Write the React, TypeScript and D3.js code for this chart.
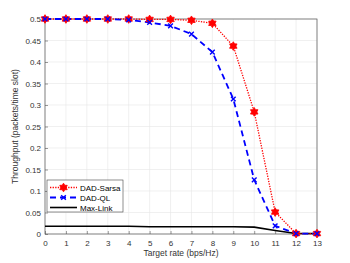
import React, { useEffect, useRef } from "react";
import * as d3 from "d3";

const rates = [0, 1, 2, 3, 4, 5, 6, 7, 8, 9, 10, 11, 12, 13];
const sarsa = [0.5, 0.5, 0.5, 0.5, 0.5, 0.499, 0.499, 0.497, 0.49, 0.437, 0.284, 0.051, 0.001, 0.001];
const ql = [0.5, 0.5, 0.5, 0.5, 0.498, 0.492, 0.484, 0.465, 0.423, 0.314, 0.126, 0.019, 0.001, 0.001];
const maxLink = [0.018, 0.018, 0.018, 0.018, 0.018, 0.017, 0.017, 0.017, 0.017, 0.017, 0.016, 0.008, 0.001, 0.001];
const yTicks = [0, 0.05, 0.1, 0.15, 0.2, 0.25, 0.3, 0.35, 0.4, 0.45, 0.5];

// six-pointed star, roughly like the MATLAB hexagram marker
const hexagram = {
  draw(ctx: any, size: number) {
    const r = Math.sqrt(size / 1.6);
    const ri = r * 0.6;
    for (let i = 0; i < 12; i++) {
      const a = (i * Math.PI) / 6 - Math.PI / 2;
      const rr = i % 2 === 0 ? r : ri;
      const px = rr * Math.cos(a);
      const py = rr * Math.sin(a);
      if (i === 0) ctx.moveTo(px, py);
      else ctx.lineTo(px, py);
    }
    ctx.closePath();
  },
};

const App = () => {
  const ref = useRef<SVGSVGElement>(null);

  useEffect(() => {
    const width = 350;
    const height = 263;
    const m = { left: 45, right: 33, top: 19, bottom: 29 };
    const svg = d3.select(ref.current);
    svg.selectAll("*").remove();

    const x = d3.scaleLinear().domain([0, 13]).range([m.left, width - m.right]);
    const y = d3.scaleLinear().domain([0, 0.5]).range([height - m.bottom, m.top]);
    const font = "Liberation Sans, Arial, sans-serif";

    svg.append("rect").attr("width", width).attr("height", height).attr("fill", "#fff");

    // grid
    const g = svg.append("g");
    g.selectAll(".gx")
      .data(rates)
      .join("line")
      .attr("x1", (d) => x(d))
      .attr("x2", (d) => x(d))
      .attr("y1", y(0))
      .attr("y2", y(0.5))
      .attr("stroke", "#e6e6e6")
      .attr("stroke-width", 0.6);
    g.selectAll(".gy")
      .data(yTicks)
      .join("line")
      .attr("x1", x(0))
      .attr("x2", x(13))
      .attr("y1", (d) => y(d))
      .attr("y2", (d) => y(d))
      .attr("stroke", "#e6e6e6")
      .attr("stroke-width", 0.6);

    // axes
    const xAxis = svg
      .append("g")
      .attr("transform", `translate(0,${y(0)})`)
      .call(d3.axisBottom(x).tickValues(rates).tickSize(-3).tickPadding(6).tickFormat(d3.format("d")));
    const yAxis = svg
      .append("g")
      .attr("transform", `translate(${x(0)},0)`)
      .call(d3.axisLeft(y).tickValues(yTicks).tickSize(-3).tickPadding(4).tickFormat((d) => String(+d)));
    [xAxis, yAxis].forEach((a) => {
      a.select(".domain").remove();
      a.selectAll("line").attr("stroke", "#555").attr("stroke-width", 0.6);
      a.selectAll("text").attr("fill", "#333").style("font-family", font).style("font-size", "8px");
    });

    // box
    svg
      .append("rect")
      .attr("x", x(0))
      .attr("y", y(0.5))
      .attr("width", x(13) - x(0))
      .attr("height", y(0) - y(0.5))
      .attr("fill", "none")
      .attr("stroke", "#555")
      .attr("stroke-width", 0.7);

    const pts = (vals: number[]) => rates.map((r, i) => [r, vals[i]] as [number, number]);
    const line = d3
      .line<[number, number]>()
      .x((d) => x(d[0]))
      .y((d) => y(d[1]));

    svg
      .append("path")
      .attr("d", line(pts(maxLink)))
      .attr("fill", "none")
      .attr("stroke", "#000")
      .attr("stroke-width", 1.6);

    svg
      .append("path")
      .attr("d", line(pts(sarsa)))
      .attr("fill", "none")
      .attr("stroke", "#ff0000")
      .attr("stroke-width", 1.3)
      .attr("stroke-dasharray", "1.3,1.3");

    svg
      .append("path")
      .attr("d", line(pts(ql)))
      .attr("fill", "none")
      .attr("stroke", "#0000ff")
      .attr("stroke-width", 1.8)
      .attr("stroke-dasharray", "6,4");

    const star = d3.symbol().type(hexagram as any).size(30);
    const cross = d3.symbol().type(d3.symbolX).size(16);

    svg
      .selectAll(".s")
      .data(pts(sarsa))
      .join("path")
      .attr("transform", (d) => `translate(${x(d[0])},${y(d[1])})`)
      .attr("d", star())
      .attr("fill", "#ff0000")
      .attr("stroke", "#ff0000")
      .attr("stroke-width", 0.8);

    svg
      .selectAll(".q")
      .data(pts(ql))
      .join("path")
      .attr("transform", (d) => `translate(${x(d[0])},${y(d[1])})`)
      .attr("d", cross())
      .attr("fill", "#0000ff")
      .attr("stroke", "#0000ff")
      .attr("stroke-width", 1.4);

    // labels
    svg
      .append("text")
      .attr("x", (x(0) + x(13)) / 2)
      .attr("y", 256)
      .attr("text-anchor", "middle")
      .style("font-family", font)
      .style("font-size", "8.5px")
      .attr("fill", "#333")
      .text("Target rate (bps/Hz)");
    svg
      .append("text")
      .attr("transform", `translate(18,${(y(0) + y(0.5)) / 2}) rotate(-90)`)
      .attr("text-anchor", "middle")
      .style("font-family", font)
      .style("font-size", "8.5px")
      .attr("fill", "#333")
      .text("Throughput (packets/time slot)");

    // legend
    const lg = svg.append("g").attr("transform", "translate(47,180)");
    lg.append("rect")
      .attr("width", 76)
      .attr("height", 32)
      .attr("fill", "#fff")
      .attr("stroke", "#444")
      .attr("stroke-width", 0.6);
    const items = [
      { name: "DAD-Sarsa", color: "#ff0000", w: 1.3, dash: "1.3,1.3", mark: star, sw: 0.8 },
      { name: "DAD-QL", color: "#0000ff", w: 1.8, dash: "6,4", mark: cross, sw: 1.4 },
      { name: "Max-Link", color: "#000", w: 1.6, dash: null, mark: null, sw: 0 },
    ];
    items.forEach((it, i) => {
      const yy = 7.5 + i * 10;
      lg.append("line")
        .attr("x1", 3)
        .attr("x2", 30)
        .attr("y1", yy)
        .attr("y2", yy)
        .attr("stroke", it.color)
        .attr("stroke-width", it.w)
        .attr("stroke-dasharray", it.dash);
      if (it.mark)
        lg.append("path")
          .attr("transform", `translate(16.5,${yy})`)
          .attr("d", it.mark())
          .attr("fill", it.color)
          .attr("stroke", it.color)
          .attr("stroke-width", it.sw);
      lg.append("text")
        .attr("x", 33)
        .attr("y", yy + 3)
        .style("font-family", font)
        .style("font-size", "8px")
        .attr("fill", "#000")
        .text(it.name);
    });
  }, []);

  return <svg ref={ref} width={350} height={263} style={{ display: "block", position: "absolute", left: 0, top: 0 }} />;
};

export default App;
